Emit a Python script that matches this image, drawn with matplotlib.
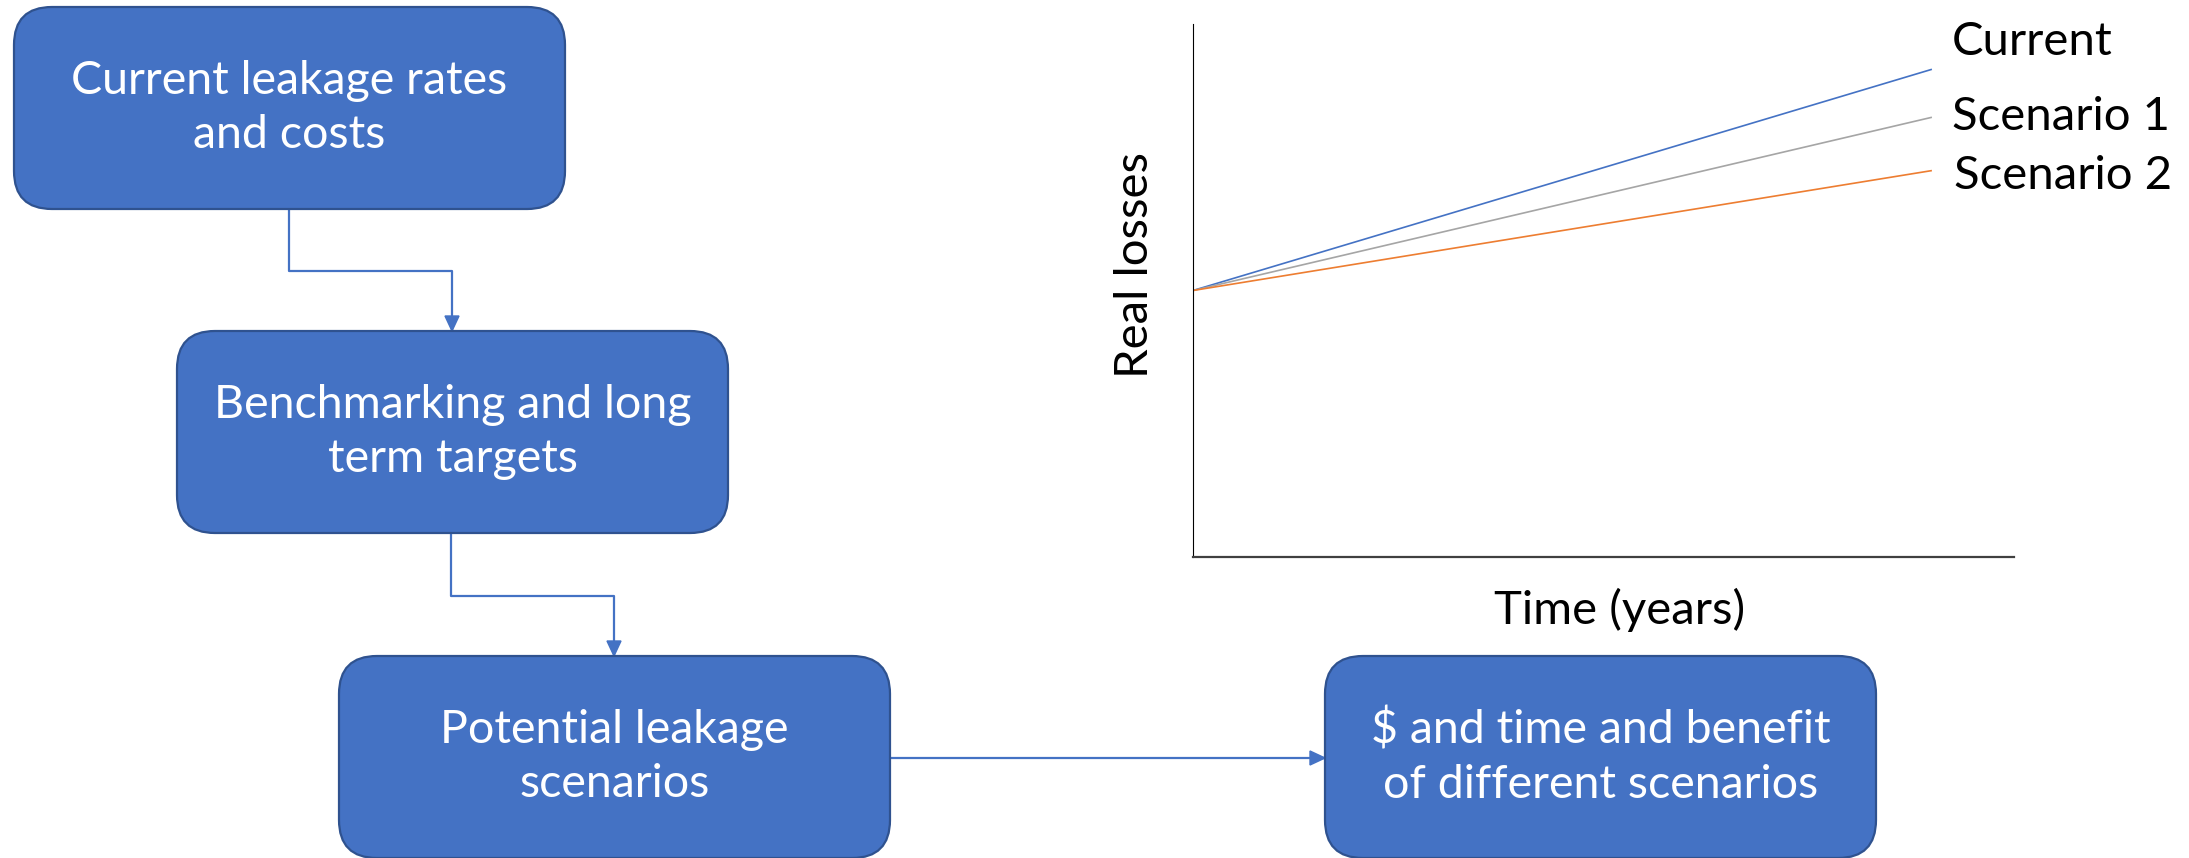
import matplotlib.pyplot as plt
from matplotlib.patches import FancyBboxPatch, Polygon

plt.rcParams["font.family"] = ["Lato", "DejaVu Sans"]

# Flow steps (text per box)
steps = [
    "Current leakage rates\nand costs",
    "Benchmarking and long\nterm targets",
    "Potential leakage\nscenarios",
    "$ and time and benefit\nof different scenarios",
]

# Leakage projection
years = [0, 9]
series_names = ["Current", "Scenario 1", "Scenario 2"]
series_values = [
    [50, 91.5],
    [50, 82.5],
    [50, 72.5],
]
series_colors = ["#4472C4", "#A5A5A5", "#ED7D31"]

W, H = 2189, 858
fig = plt.figure(figsize=(W / 100, H / 100), dpi=100)

# overlay in pixel units for the flow diagram
ov = fig.add_axes([0, 0, 1, 1])
ov.set_xlim(0, W)
ov.set_ylim(H, 0)
ov.axis("off")

BOX_FILL = "#4472C4"
BOX_EDGE = "#2F528F"
boxes = [(14, 7), (177, 331), (339, 656), (1325, 656)]
bw, bh = 551, 202

for (x0, y0), label in zip(boxes, steps):
    ov.add_patch(FancyBboxPatch((x0, y0), bw, bh,
                                boxstyle="round,pad=0,rounding_size=38",
                                fc=BOX_FILL, ec=BOX_EDGE, lw=1.6, zorder=2))
    ov.text(x0 + bw / 2, y0 + bh / 2, label, color="white", fontsize=33.5,
            ha="center", va="center", linespacing=1.38, zorder=3)


def connector(pts):
    xs, ys = zip(*pts)
    ov.plot(xs, ys, color="#4472C4", lw=1.6, zorder=1, solid_capstyle="butt")
    (x1, y1), (x2, y2) = pts[-2], pts[-1]
    hl, hw = 15, 7
    if x1 == x2:  # pointing down
        tri = [(x2, y2), (x2 - hw, y2 - hl), (x2 + hw, y2 - hl)]
    else:  # pointing right
        tri = [(x2, y2), (x2 - hl, y2 - hw), (x2 - hl, y2 + hw)]
    ov.add_patch(Polygon(tri, closed=True, fc="#4472C4", ec="#4472C4", lw=1, zorder=1))


connector([(289, 209), (289, 271), (452, 271), (452, 331)])
connector([(451, 533), (451, 596), (614, 596), (614, 656)])
connector([(890, 758), (1325, 758)])

# projection chart
ax = fig.add_axes([1193 / W, 1 - 557 / H, (2014 - 1193) / W, (557 - 24) / H])
ax.set_xlim(0, 10)
ax.set_ylim(0, 100)
ax.patch.set_alpha(0)
for name, vals, col in zip(series_names, series_values, series_colors):
    ax.plot(years, vals, color=col, lw=1.2, solid_capstyle="butt")

offsets = [(20, 27), (20, 0), (22, -5)]
for name, vals, off in zip(series_names, series_values, offsets):
    ax.annotate(name, xy=(years[-1], vals[-1]), xytext=off,
                textcoords="offset pixels", fontsize=34, color="black",
                ha="left", va="center", annotation_clip=False)

ax.spines["top"].set_visible(False)
ax.spines["right"].set_visible(False)
ax.spines["left"].set_color("black")
ax.spines["left"].set_linewidth(0.8)
ax.spines["bottom"].set_color("#404040")
ax.spines["bottom"].set_linewidth(1.6)
ax.set_xticks([])
ax.set_yticks([])
ax.set_xlabel("Time (years)", fontsize=34)
ax.set_ylabel("Real losses", fontsize=34)
ax.xaxis.set_label_coords(0.519, -0.058)
ax.yaxis.set_label_coords(-0.045, 0.548)

fig.savefig("out.png", dpi=100)
